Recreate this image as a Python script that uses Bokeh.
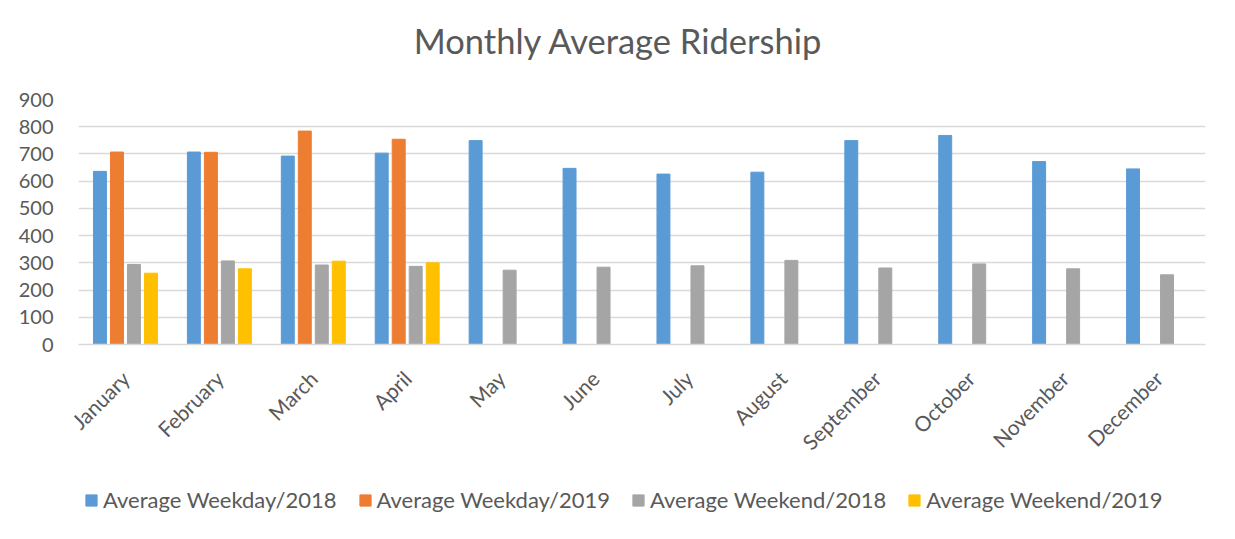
import math
from bokeh.plotting import figure
from bokeh.layouts import column
from bokeh.models import (ColumnDataSource, FactorRange, Legend, LegendItem, Range1d, FixedTicker,
                          Div)
from bokeh.transform import dodge
from bokeh.embed import file_html
from bokeh.resources import INLINE

title_text = "Monthly Average Ridership"
months = ["January", "February", "March", "April", "May", "June", "July",
          "August", "September", "October", "November", "December"]
weekday_2018 = [636, 707, 692, 703, 749, 647, 626, 633, 749, 768, 672, 645]
weekend_2018 = [294, 307, 292, 287, 273, 284, 289, 309, 281, 296, 278, 256]
months_2019 = ["January", "February", "March", "April"]
weekday_2019 = [707, 706, 784, 754]
weekend_2019 = [262, 278, 306, 300]
y_ticks = [0, 100, 200, 300, 400, 500, 600, 700, 800, 900]
series_names = ["Average Weekday/2018", "Average Weekday/2019",
                "Average Weekend/2018", "Average Weekend/2019"]
series_colors = ["#5B9BD5", "#ED7D31", "#A5A5A5", "#FFC000"]

FONT = "Lato"
TXT = "#595959"

src18 = ColumnDataSource(dict(month=months, wd=weekday_2018, we=weekend_2018))
src19 = ColumnDataSource(dict(month=months_2019, wd=weekday_2019, we=weekend_2019))

step = 0.181
w = 0.138
specs = [(-1.5, "wd", src18), (-0.5, "wd", src19), (0.5, "we", src18), (1.5, "we", src19)]


def draw_bars(fig):
    rs = []
    for (k, col, src), color in zip(specs, series_colors):
        rs.append(fig.vbar(x=dodge("month", k * step, range=fig.x_range), top=col, width=w,
                           source=src, fill_color=color, line_color=color))
    return rs


# title strip
title = Div(text=title_text, width=1235, height=62, margin=(0, 0, 0, 0),
            styles={"font-family": FONT, "font-size": "34.5px", "color": TXT,
                    "text-align": "center", "line-height": "1", "padding-top": "24px",
                    "box-sizing": "border-box", "white-space": "nowrap"})

p = figure(x_range=FactorRange(*months, range_padding=0), y_range=Range1d(0, 900),
           width=1235, height=404, output_backend="svg", toolbar_location=None,
           min_border_left=78, min_border_right=30, min_border_top=37, min_border_bottom=122)
draw_bars(p)

p.outline_line_color = None
p.xgrid.grid_line_color = None
p.ygrid.grid_line_color = "#d9d9d9"
p.ygrid.grid_line_width = 1.3

p.yaxis.ticker = FixedTicker(ticks=y_ticks)
p.yaxis.axis_line_color = None
p.yaxis.major_tick_line_color = None
p.yaxis.major_tick_out = 0
p.yaxis.major_tick_in = 0
p.yaxis.minor_tick_line_color = None
p.yaxis.major_label_text_font = FONT
p.yaxis.major_label_text_font_size = "20px"
p.yaxis.major_label_text_color = TXT
p.yaxis.major_label_standoff = 25

p.xaxis.axis_line_color = "#d9d9d9"
p.xaxis.axis_line_width = 1.3
p.xaxis.major_tick_line_color = None
p.xaxis.major_tick_out = 0
p.xaxis.major_tick_in = 0
p.xaxis.minor_tick_line_color = None
p.xaxis.major_label_orientation = math.pi / 4
p.xaxis.major_label_text_font = FONT
p.xaxis.major_label_text_font_size = "21px"
p.xaxis.major_label_text_color = TXT
p.xaxis.major_label_standoff = 30

# legend strip: the same series, with the value range set so that the bars fall
# below the strip (and below the window), leaving only the legend swatches visible
lg = figure(width=1235, height=80, output_backend="svg", toolbar_location=None,
            x_range=FactorRange(*months, range_padding=0), y_range=Range1d(100000, 100001),
            x_axis_location=None, y_axis_location=None,
            min_border=0, min_border_left=0, min_border_right=0,
            min_border_top=0, min_border_bottom=0)
lg.outline_line_color = None
lg.grid.grid_line_color = None
lg_rs = draw_bars(lg)
legend = Legend(items=[LegendItem(label=n, renderers=[r]) for n, r in zip(series_names, lg_rs)],
                orientation="horizontal", location=(6, 33))
legend.label_text_font = FONT
legend.label_text_font_size = "22px"
legend.label_text_color = TXT
legend.glyph_width = 14
legend.glyph_height = 14
legend.label_standoff = 5
legend.spacing = 21
legend.border_line_color = None
legend.background_fill_alpha = 0
legend.margin = 0
legend.padding = 0
lg.add_layout(legend, "center")

layout = column(title, p, lg, spacing=0)
open("out.html", "w").write(file_html(layout, INLINE))
